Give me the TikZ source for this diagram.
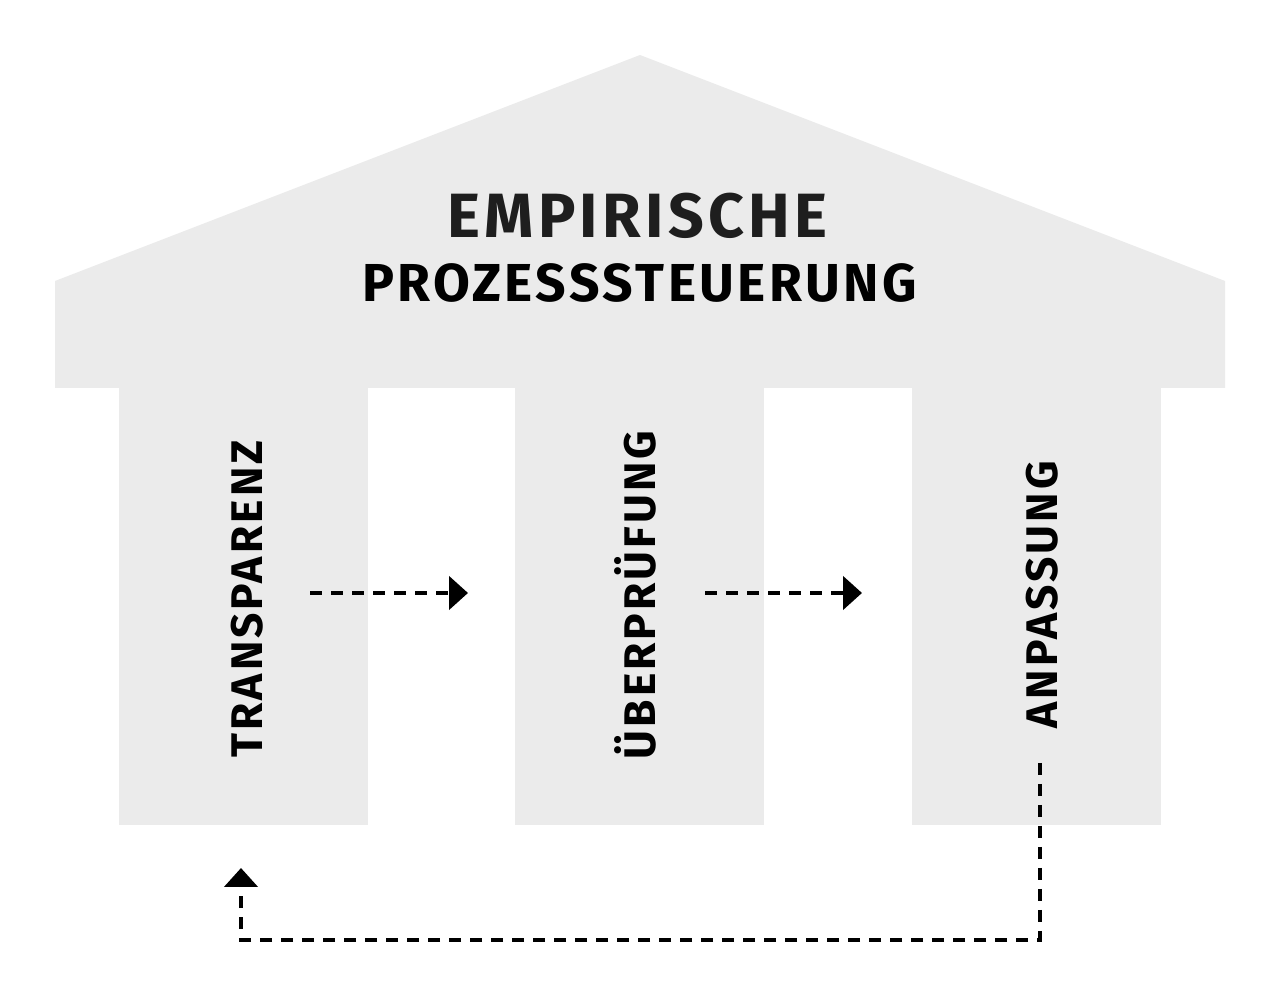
\documentclass[tikz,border=0pt]{standalone}
\usepackage{fontspec}
\setmainfont{Fira Sans}
\newfontfamily\kopffont[LetterSpace=7]{Fira Sans}
\newfontfamily\titelfont[LetterSpace=6.5]{Fira Sans}
\newfontfamily\saeulenfont[LetterSpace=7]{Fira Sans}
\usetikzlibrary{arrows.meta}
\definecolor{hausgrau}{HTML}{EBEBEB}
\definecolor{textschwarz}{HTML}{1E1E1E}
\tikzset{
  saeule/.style={fill=hausgrau, draw=none, minimum width=2.49cm, minimum height=4.37cm, inner sep=0pt},
  saeulentext/.style={rotate=90, anchor=base, text=black, inner sep=0pt,
    font=\saeulenfont\bfseries\fontsize{12.6}{14}\selectfont},
  fluss/.style={dashed, dash pattern=on 0.12cm off 0.09cm, line width=1.3pt, -{Triangle[length=0.19cm,width=0.33cm]}}
}
\begin{document}
\begin{tikzpicture}
    \useasboundingbox (0,0) rectangle (12.76,10.05);
    % Dach
    \fill[hausgrau] (0.55,6.17) -- (0.55,7.24) -- (6.40,9.50) -- (12.25,7.24) -- (12.25,6.17) -- cycle;
    \node[anchor=base, text=textschwarz, font=\kopffont\bfseries\fontsize{17.8}{20}\selectfont] (titel1) at (6.375,7.67) {EMPIRISCHE};
    \node[anchor=base, text=black, font=\titelfont\bfseries\fontsize{15.2}{18}\selectfont] (titel2) at (6.395,7.03) {PROZESSSTEUERUNG};
    % Saeulen
    \node[saeule] (s1) at (2.435,3.985) {};
    \node[saeule] (s2) at (6.395,3.985) {};
    \node[saeule] (s3) at (10.365,3.985) {};
    \node[saeulentext] (transparenz) at (2.62,4.06) {TRANSPARENZ};
    \node[saeulentext] (ueberpruefung) at (6.55,4.10) {ÜBERPRÜFUNG};
    \node[saeulentext] (anpassung) at (10.57,4.10) {ANPASSUNG};
    % Koordinaten
    \coordinate (A1) at (3.10,4.12);
    \coordinate (B1) at (4.68,4.12);
    \coordinate (A2) at (7.05,4.12);
    \coordinate (B2) at (8.62,4.12);
    \coordinate (R1) at (10.40,2.42);
    \coordinate (R2) at (2.41,1.37);
    % Pfeile
    \draw[fluss] (A1) -- (B1);
    \draw[fluss] (A2) -- (B2);
    \draw[fluss] (R1) -- (10.40,0.65) -- (2.41,0.65) -- (R2); % zurueck
\end{tikzpicture}
\end{document}
